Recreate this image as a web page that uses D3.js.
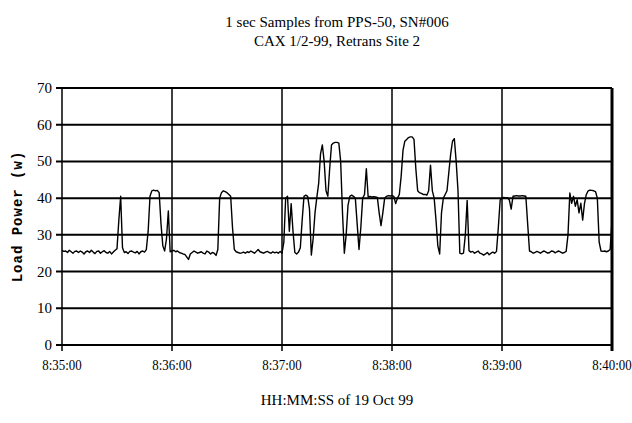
<!DOCTYPE html>
<html lang="en">
<head>
<meta charset="utf-8">
<title>PPS-50 load power</title>
<style>
  body { margin: 0; background: #fff; }
  text { font-family: "Liberation Serif", "Times New Roman", serif; fill: #000; }
</style>
</head>
<body>
<svg id="chart" width="632" height="423"></svg>
<script src="https://d3js.org/d3.v7.min.js"></script>
<script>
const titleLines = ["1 sec Samples from PPS-50, SN#006", "CAX 1/2-99, Retrans Site 2"];
const xTitle = "HH:MM:SS of 19 Oct 99";
const yTitle = "Load Power (w)";
const yTicks = [0, 10, 20, 30, 40, 50, 60, 70];
// first sample is 8:35:00, one sample every second
const startTime = new Date(1999, 9, 19, 8, 35, 0);
const endTime = new Date(1999, 9, 19, 8, 40, 0);
const loadPower = [
  25.8, 25.5, 25.6, 25.2, 25.8, 25.4, 25.0, 25.5, 25.6, 25.2,
  25.6, 25.3, 24.8, 25.4, 25.6, 25.2, 25.8, 25.3, 24.9, 25.5,
  25.6, 25.0, 25.4, 25.7, 25.2, 25.0, 25.5, 24.8, 25.3, 25.8,
  26.2, 34.0, 40.5, 26.5, 25.2, 25.4, 24.9, 25.5, 25.6, 25.3,
  25.1, 25.5, 24.8, 25.4, 25.6, 25.3, 26.0, 31.0, 40.5, 42.0,
  42.2, 42.0, 42.1, 41.5, 33.0, 27.0, 25.6, 29.0, 36.5, 25.4,
  25.6, 25.8, 25.4, 25.6, 25.2, 25.0, 24.8, 24.7, 24.0, 23.3,
  24.8, 25.2, 25.6, 25.3, 25.0, 25.2, 25.4, 25.0, 24.8, 25.6,
  25.3, 24.8, 25.2, 25.0, 24.4, 26.0, 40.0, 41.5, 42.0, 41.8,
  41.5, 41.0, 40.5, 32.0, 26.0, 25.4, 25.2, 25.0, 25.1, 25.3,
  25.0, 25.4, 25.2, 25.6, 25.3, 25.0, 25.5, 26.0, 25.4, 25.2,
  25.0, 25.3, 25.5, 25.2, 25.0, 25.4, 25.1, 25.3, 25.0, 25.5,
  25.0, 28.0, 40.0, 40.5, 31.0, 38.5, 31.0, 25.2, 24.8, 25.3,
  26.5, 34.0, 40.5, 40.8, 40.5, 37.0, 24.5, 29.0, 36.0, 40.2,
  44.0, 52.0, 54.5, 50.0, 42.0, 40.5, 48.0, 54.5, 55.0, 55.2,
  55.2, 55.0, 50.0, 36.0, 25.0, 30.0, 38.0, 40.5, 40.8, 40.5,
  40.0, 33.0, 26.0, 32.0, 40.0, 41.0, 48.0, 40.3, 40.5, 40.3,
  40.4, 40.3, 40.2, 36.0, 32.5, 36.0, 40.0, 40.5, 40.7, 40.6,
  40.7, 40.5, 38.5, 40.0, 41.0, 46.0, 53.0, 55.5, 56.0, 56.5,
  56.7, 56.7, 56.0, 48.0, 42.0, 41.5, 41.3, 41.0, 41.0, 40.8,
  42.0, 49.0, 42.0, 40.0, 34.0, 27.0, 24.8, 36.0, 40.0, 41.0,
  42.0, 47.0, 52.0, 55.5, 56.2, 50.0, 42.0, 25.0, 24.8, 25.0,
  30.0, 39.4, 25.7, 25.3, 25.5, 25.0, 25.3, 25.6, 25.0, 24.8,
  24.5, 24.8, 25.2, 24.6, 25.0, 25.3, 25.0, 25.5, 32.0, 39.5,
  40.0, 40.2, 40.0, 40.1, 39.5, 37.0, 40.5, 40.6, 40.7, 40.6,
  40.6, 40.7, 40.6, 40.5, 33.0, 25.6, 25.4, 25.0, 25.2, 25.5,
  25.3, 25.0, 25.4, 25.6, 25.3, 25.0, 25.2, 25.6, 25.5, 25.1,
  25.4, 25.6, 25.3, 25.0, 25.2, 25.5, 30.0, 41.4, 38.6, 40.5,
  37.8, 39.6, 36.0, 38.6, 34.0, 38.6, 41.0, 42.0, 42.2, 42.1,
  42.0, 41.8, 40.0, 28.0, 25.6, 25.5, 25.6, 25.4, 25.6, 26.0,
  34.0
];

const plotL = 62, plotR = 612, plotT = 88, plotB = 345;
const svg = d3.select("#chart");

const x = d3.scaleTime().domain([startTime, endTime]).range([plotL, plotR]);
const y = d3.scaleLinear().domain([0, 70]).range([plotB, plotT]);

// titles
svg.selectAll(".title")
  .data(titleLines)
  .enter().append("text")
  .attr("class", "title")
  .attr("x", 337)
  .attr("y", (d, i) => 27 + i * 19)
  .attr("text-anchor", "middle")
  .style("font-size", "15px")
  .text(d => d);

// horizontal grid, heavy like the original
svg.append("g")
  .selectAll("line")
  .data(yTicks)
  .enter().append("line")
  .attr("x1", plotL - 6)
  .attr("x2", plotR)
  .attr("y1", d => y(d))
  .attr("y2", d => y(d))
  .attr("stroke", "#000")
  .attr("stroke-width", 2);

// vertical grid every minute
const minutes = d3.timeMinute.range(startTime, d3.timeSecond.offset(endTime, 1));
svg.append("g")
  .selectAll("line")
  .data(minutes)
  .enter().append("line")
  .attr("x1", d => x(d))
  .attr("x2", d => x(d))
  .attr("y1", plotT)
  .attr("y2", plotB + 6)
  .attr("stroke", "#000")
  .attr("stroke-width", (d, i) => (i == minutes.length - 1 ? 3 : 1.5));

// y tick labels
svg.append("g")
  .selectAll("text")
  .data(yTicks)
  .enter().append("text")
  .attr("x", plotL - 10)
  .attr("y", d => y(d) + 5)
  .attr("text-anchor", "end")
  .style("font-size", "15px")
  .text(d => d);

// x tick labels, squeezed a bit like the scanned original
const fmt = d3.timeFormat("%-I:%M:%S");
svg.append("g")
  .selectAll("text")
  .data(minutes)
  .enter().append("text")
  .attr("transform", d => "translate(" + x(d) + "," + (plotB + 25) + ") scale(0.86,1)")
  .attr("text-anchor", "middle")
  .style("font-size", "15px")
  .text(d => fmt(d));

svg.append("text")
  .attr("x", 337)
  .attr("y", 405)
  .attr("text-anchor", "middle")
  .style("font-size", "15px")
  .text(xTitle);

svg.append("text")
  .attr("transform", "translate(22," + ((plotT + plotB) / 2) + ") rotate(-90)")
  .attr("text-anchor", "middle")
  .style("font-family", "'Liberation Mono', monospace")
  .style("font-weight", "bold")
  .style("font-size", "14px")
  .style("letter-spacing", "1px")
  .text(yTitle);

// the trace
const line = d3.line()
  .x((d, i) => x(d3.timeSecond.offset(startTime, i)))
  .y(d => y(d));

svg.append("path")
  .datum(loadPower)
  .attr("d", line)
  .attr("fill", "none")
  .attr("stroke", "#000")
  .attr("stroke-width", 1.4)
  .attr("stroke-linejoin", "round");
</script>
</body>
</html>
